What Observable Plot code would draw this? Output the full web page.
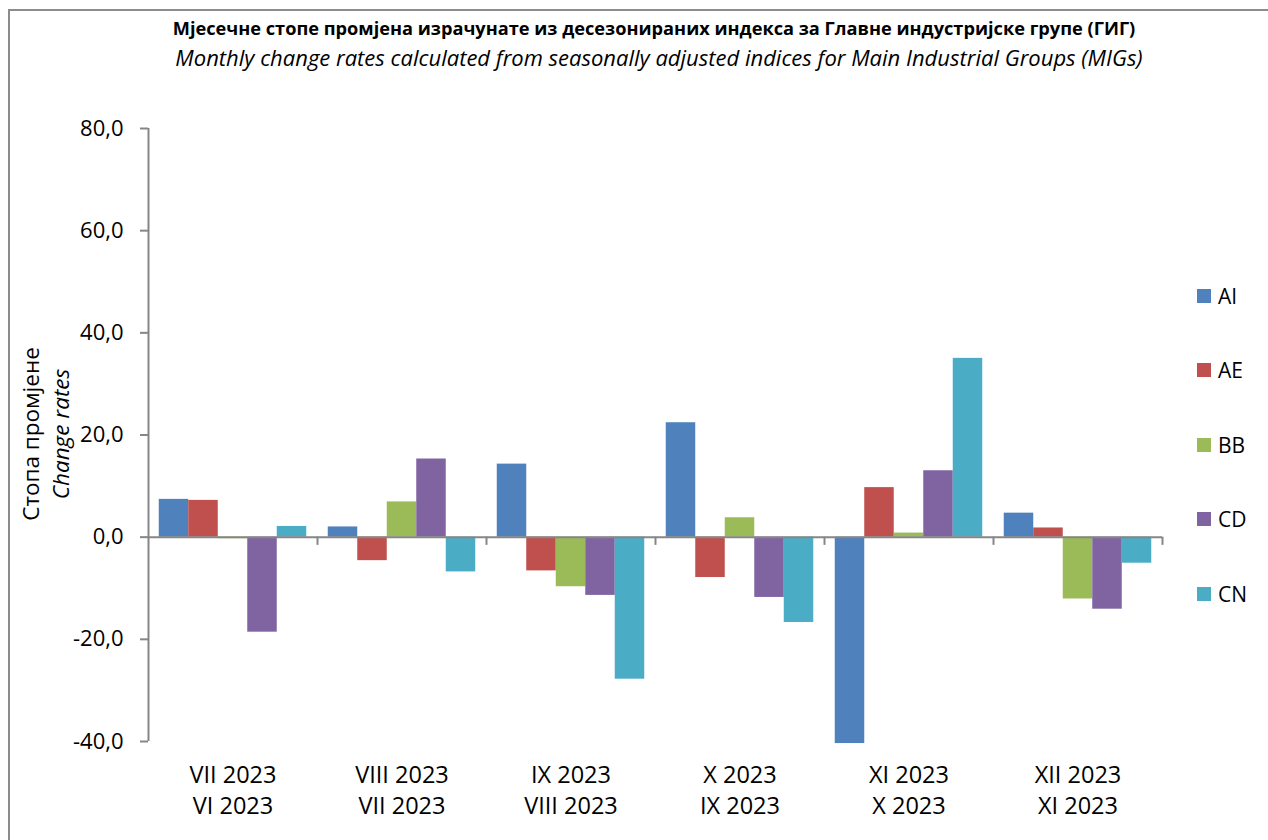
<!DOCTYPE html>
<html>
<head>
<meta charset="utf-8">
<script src="https://cdn.jsdelivr.net/npm/d3@7"></script>
<script src="https://cdn.jsdelivr.net/npm/@observablehq/plot@0.6"></script>
<style>
  html, body { margin: 0; padding: 0; background: #fff; overflow: hidden; }
  #wrap { position: relative; width: 1268px; height: 840px; font-family: "Open Sans", "Noto Sans", sans-serif; color: #000; }
  #frame { position: absolute; left: 8px; top: 9px; width: 1270px; height: 840px; border: 2px solid #8c8c8c; box-sizing: border-box; }
  #title { position: absolute; left: 0; width: 1308px; top: 15px; text-align: center; font-weight: bold; font-size: 18.2px; line-height: 26px; white-space: nowrap; }
  #subtitle { position: absolute; left: 0; width: 1318px; top: 42px; text-align: center; font-style: italic; font-size: 22px; line-height: 30px; white-space: nowrap; }
  #ytitle { position: absolute; left: 46px; top: 434px; transform: translate(-50%, -50%) rotate(-90deg); text-align: center; font-size: 22.5px; line-height: 30px; white-space: nowrap; }
  #legend { position: absolute; left: 1197px; top: 281px; font-size: 21px; }
  .lg { display: flex; align-items: center; height: 29px; margin-bottom: 45.5px; }
  .sw { width: 14px; height: 14px; margin-right: 7px; }
  #chart { position: absolute; left: 0; top: 0; }
</style>
</head>
<body>
<div id="wrap">
  <div id="chart"></div>
  <div id="frame"></div>
  <div id="title">Мјесечне стопе промјена израчунате из десезонираних индекса за Главне индустријске групе (ГИГ)</div>
  <div id="subtitle">Monthly change rates calculated from seasonally adjusted indices for Main Industrial Groups (MIGs)</div>
  <div id="ytitle">Стопа промјене<br><i>Change rates</i></div>
  <div id="legend"></div>
</div>
<script>
const groups = ["VII 2023\nVI 2023", "VIII 2023\nVII 2023", "IX 2023\nVIII 2023", "X 2023\nIX 2023", "XI 2023\nX 2023", "XII 2023\nXI 2023"];
const series = ["AI", "AE", "BB", "CD", "CN"];
const colors = ["#4F81BD", "#C0504D", "#9BBB59", "#8064A2", "#4BACC6"];
const AI = [7.4, 2.0, 14.3, 22.4, -40.4, 4.7];
const AE = [7.2, -4.6, -6.6, -7.9, 9.7, 1.8];
const BB = [-0.3, 6.9, -9.7, 3.8, 0.8, -12.1];
const CD = [-18.6, 15.3, -11.4, -11.8, 13.0, -14.1];
const CN = [2.1, -6.8, -27.8, -16.7, 35.0, -5.1];
const yTicks = [-40, -20, 0, 20, 40, 60, 80];

const values = {AI, AE, BB, CD, CN};
const barW = 29.5 / 169;
const pad = (1 - series.length * barW) / 2;
const table = [];
groups.forEach((g, i) => {
  series.forEach((s, j) => {
    const x1 = i + pad + j * barW;
    table.push({group: g, series: s, x1, x2: x1 + barW, value: values[s][i]});
  });
});

const axisColor = "#868686";
const chart = Plot.plot({
  width: 1268,
  height: 840,
  marginTop: 128,
  marginBottom: 99,
  marginLeft: 148,
  marginRight: 106,
  style: {fontFamily: "'Open Sans', 'Noto Sans', sans-serif", background: "transparent", color: "#000"},
  x: {domain: [0, groups.length], axis: null},
  y: {domain: [-40, 80], axis: null},
  color: {domain: series, range: colors},
  marks: [
    Plot.rect(table, {x1: "x1", x2: "x2", y1: 0, y2: "value", fill: "series", clip: false}),
    Plot.ruleY([0], {x1: 0, x2: groups.length, stroke: axisColor, strokeWidth: 2}),
    Plot.ruleX(d3.range(1, groups.length + 1), {y1: 0, y2: -1.6, stroke: axisColor, strokeWidth: 2}),
    Plot.ruleX([0], {y1: -40, y2: 80, stroke: axisColor, strokeWidth: 2}),
    Plot.axisY({
      ticks: yTicks,
      tickFormat: d => d.toFixed(1).replace(".", ","),
      tickSize: 8,
      tickPadding: 17,
      fontSize: 22,
      stroke: axisColor,
      strokeWidth: 2,
      label: null
    }),
    Plot.axisX({
      ticks: groups.map((g, i) => i + 0.5),
      tickFormat: (d) => groups[Math.floor(d)],
      tickSize: 0,
      tickPadding: 19,
      fontSize: 23.5,
      lineHeight: 1.32,
      label: null
    })
  ]
});
document.getElementById("chart").appendChild(chart);

const legend = document.getElementById("legend");
series.forEach((s, j) => {
  const row = document.createElement("div");
  row.className = "lg";
  row.innerHTML = `<div class="sw" style="background:${colors[j]}"></div><span>${s}</span>`;
  legend.appendChild(row);
});
</script>
</body>
</html>
